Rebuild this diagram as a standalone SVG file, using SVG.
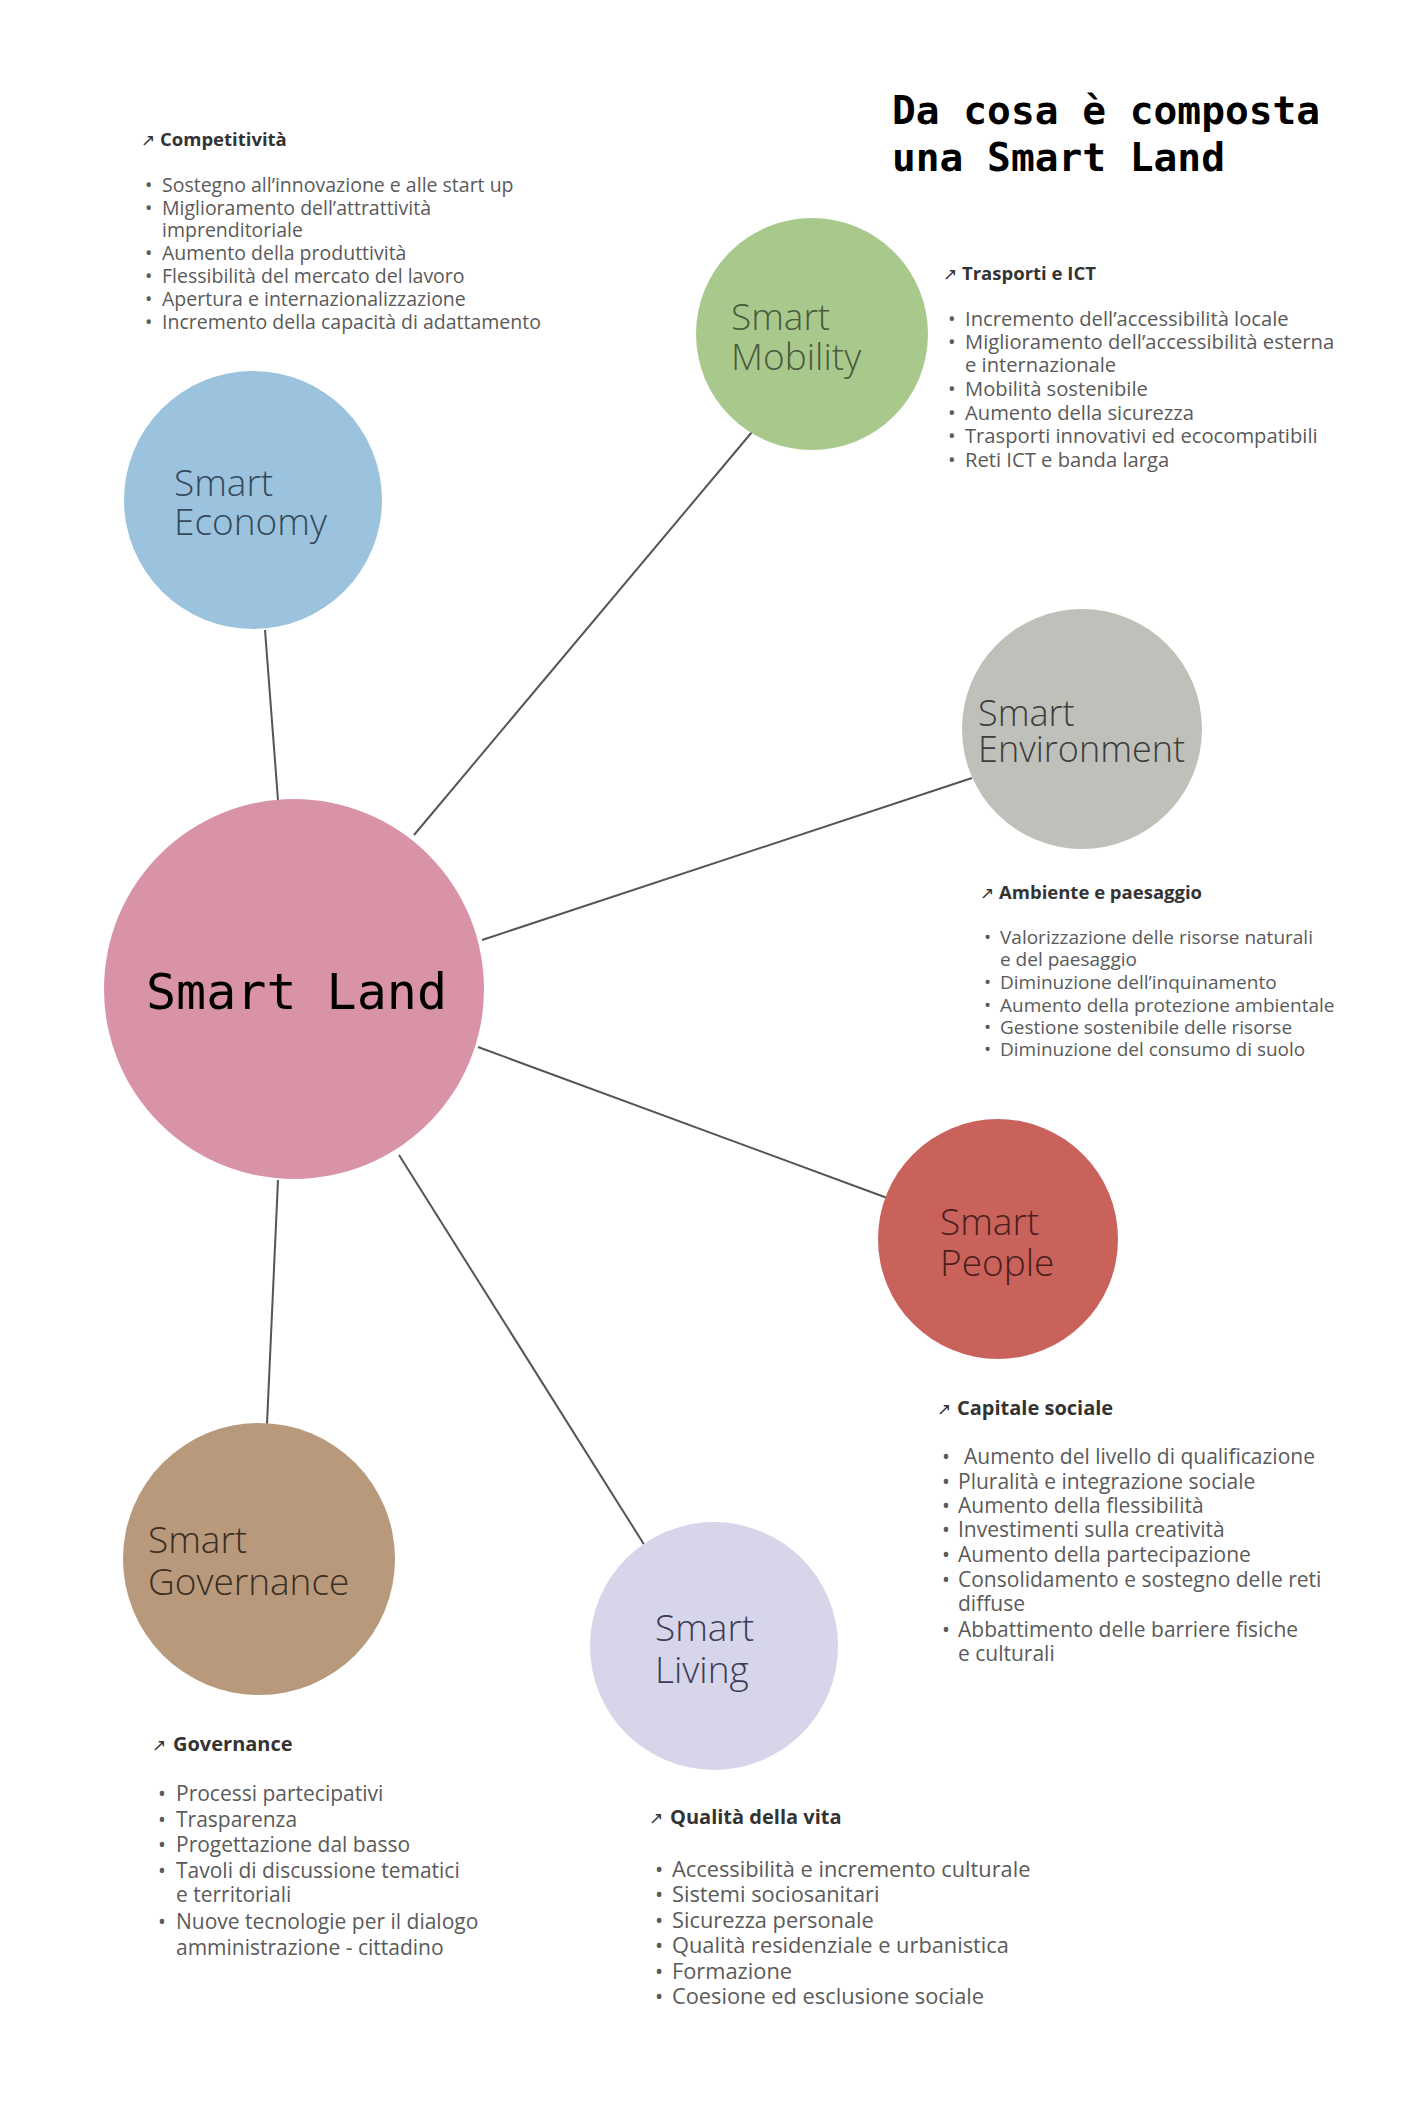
<svg xmlns="http://www.w3.org/2000/svg" width="1428" height="2112" viewBox="0 0 1428 2112">
<style>
.bg{fill:#ffffff}
.conn{stroke:#555555;stroke-width:2;fill:none}
.lbl{font-family:"Open Sans","Liberation Sans",sans-serif;font-size:37px;font-weight:300}
.title{font-family:"DejaVu Sans Mono","Liberation Mono",monospace;font-weight:bold;font-size:39.5px;fill:#000}
.land{font-family:"DejaVu Sans Mono","Liberation Mono",monospace;font-size:50px;fill:#000}
.hd{font-family:"Open Sans","Liberation Sans",sans-serif;font-weight:bold;font-size:18.5px;fill:#333}
.ar{font-family:"DejaVu Sans",sans-serif;font-weight:normal;font-size:17px}
.bl{font-family:"Open Sans","Liberation Sans",sans-serif;font-size:19.5px;fill:#5a5a5a}
.blm{font-family:"Open Sans","Liberation Sans",sans-serif;font-size:20.2px;fill:#5a5a5a}
.ble{font-family:"Open Sans","Liberation Sans",sans-serif;font-size:19px;fill:#5a5a5a}
.bl2{font-family:"Open Sans","Liberation Sans",sans-serif;font-size:21px;fill:#5a5a5a}
.bl3{font-family:"Open Sans","Liberation Sans",sans-serif;font-size:21.8px;fill:#5a5a5a}
.hd2{font-family:"Open Sans","Liberation Sans",sans-serif;font-weight:bold;font-size:20px;fill:#333}
</style>
<rect class="bg" x="0" y="0" width="1428" height="2112"/>
<g id="title">
<text class="title" x="892" y="124">Da cosa è composta</text>
<text class="title" x="892" y="171">una Smart Land</text>
</g>
<g id="connectors">
<line class="conn" x1="278" y1="800" x2="265" y2="630"/>
<line class="conn" x1="414" y1="835" x2="752" y2="432"/>
<line class="conn" x1="482" y1="940" x2="972" y2="778"/>
<line class="conn" x1="478" y1="1047" x2="890" y2="1199"/>
<line class="conn" x1="399" y1="1155" x2="645" y2="1546"/>
<line class="conn" x1="278" y1="1180" x2="267" y2="1424"/>
</g>
<g id="node-economy">
<circle cx="253" cy="500" r="129" fill="#9cc3de"/>
<text class="lbl" fill="#34495a"><tspan x="174" y="496">Smart</tspan><tspan x="174" y="535">Economy</tspan></text>
<text class="hd" x="141" y="146"><tspan class="ar">↗</tspan><tspan x="160">Competitività</tspan></text>
<text class="bl"><tspan x="145" y="192">•</tspan><tspan x="162">Sostegno all’innovazione e alle start up</tspan></text>
<text class="bl"><tspan x="145" y="215">•</tspan><tspan x="162">Miglioramento dell’attrattività</tspan></text>
<text class="bl" x="162" y="237">imprenditoriale</text>
<text class="bl"><tspan x="145" y="260">•</tspan><tspan x="162">Aumento della produttività</tspan></text>
<text class="bl"><tspan x="145" y="283">•</tspan><tspan x="162">Flessibilità del mercato del lavoro</tspan></text>
<text class="bl"><tspan x="145" y="306">•</tspan><tspan x="162">Apertura e internazionalizzazione</tspan></text>
<text class="bl"><tspan x="145" y="329">•</tspan><tspan x="162">Incremento della capacità di adattamento</tspan></text>
</g>
<g id="node-mobility">
<circle cx="812" cy="334" r="116" fill="#a9c98c"/>
<text class="lbl" fill="#4a5a3c"><tspan x="731" y="330">Smart</tspan><tspan x="731" y="370">Mobility</tspan></text>
<text class="hd" x="943" y="280"><tspan class="ar">↗</tspan><tspan x="962">Trasporti e ICT</tspan></text>
<text class="blm"><tspan x="948" y="326">•</tspan><tspan x="965">Incremento dell’accessibilità locale</tspan></text>
<text class="blm"><tspan x="948" y="349">•</tspan><tspan x="965">Miglioramento dell’accessibilità esterna</tspan></text>
<text class="blm" x="965" y="372">e internazionale</text>
<text class="blm"><tspan x="948" y="396">•</tspan><tspan x="965">Mobilità sostenibile</tspan></text>
<text class="blm"><tspan x="948" y="420">•</tspan><tspan x="965">Aumento della sicurezza</tspan></text>
<text class="blm"><tspan x="948" y="443">•</tspan><tspan x="965">Trasporti innovativi ed ecocompatibili</tspan></text>
<text class="blm"><tspan x="948" y="467">•</tspan><tspan x="965">Reti ICT e banda larga</tspan></text>
</g>
<g id="node-environment">
<circle cx="1082" cy="729" r="120" fill="#bfc0ba"/>
<text class="lbl" fill="#3c3c3c" style="font-size:36px"><tspan x="978" y="726">Smart</tspan><tspan x="978" y="762">Environment</tspan></text>
<text class="hd" x="980" y="899"><tspan class="ar">↗</tspan><tspan x="999">Ambiente e paesaggio</tspan></text>
<text class="ble"><tspan x="984" y="944">•</tspan><tspan x="1000">Valorizzazione delle risorse naturali</tspan></text>
<text class="ble" x="1000" y="966">e del paesaggio</text>
<text class="ble"><tspan x="984" y="989">•</tspan><tspan x="1000">Diminuzione dell’inquinamento</tspan></text>
<text class="ble"><tspan x="984" y="1012">•</tspan><tspan x="1000">Aumento della protezione ambientale</tspan></text>
<text class="ble"><tspan x="984" y="1034">•</tspan><tspan x="1000">Gestione sostenibile delle risorse</tspan></text>
<text class="ble"><tspan x="984" y="1056">•</tspan><tspan x="1000">Diminuzione del consumo di suolo</tspan></text>
</g>
<g id="node-land">
<circle cx="294" cy="989" r="190" fill="#d894a6"/>
<text class="land" x="146" y="1009">Smart Land</text>
</g>
<g id="node-people">
<circle cx="998" cy="1239" r="120" fill="#c9625b"/>
<text class="lbl" fill="#4a1f1b"><tspan x="940" y="1235">Smart</tspan><tspan x="940" y="1276">People</tspan></text>
<text class="hd2" x="937" y="1415"><tspan class="ar">↗</tspan><tspan x="957">Capitale sociale</tspan></text>
<text class="bl2"><tspan x="942" y="1464">•</tspan><tspan x="964">Aumento del livello di qualificazione</tspan></text>
<text class="bl2"><tspan x="942" y="1489">•</tspan><tspan x="958">Pluralità e integrazione sociale</tspan></text>
<text class="bl2"><tspan x="942" y="1513">•</tspan><tspan x="958">Aumento della flessibilità</tspan></text>
<text class="bl2"><tspan x="942" y="1537">•</tspan><tspan x="958">Investimenti sulla creatività</tspan></text>
<text class="bl2"><tspan x="942" y="1562">•</tspan><tspan x="958">Aumento della partecipazione</tspan></text>
<text class="bl2"><tspan x="942" y="1587">•</tspan><tspan x="958">Consolidamento e sostegno delle reti</tspan></text>
<text class="bl2" x="958" y="1611">diffuse</text>
<text class="bl2"><tspan x="942" y="1637">•</tspan><tspan x="958">Abbattimento delle barriere fisiche</tspan></text>
<text class="bl2" x="958" y="1661">e culturali</text>
</g>
<g id="node-governance">
<circle cx="259" cy="1559" r="136" fill="#b8997c"/>
<text class="lbl" fill="#3a2d22"><tspan x="148" y="1553">Smart</tspan><tspan x="148" y="1595">Governance</tspan></text>
<text class="hd2" x="152" y="1751"><tspan class="ar">↗</tspan><tspan x="173">Governance</tspan></text>
<text class="bl2"><tspan x="158" y="1801">•</tspan><tspan x="176">Processi partecipativi</tspan></text>
<text class="bl2"><tspan x="158" y="1827">•</tspan><tspan x="176">Trasparenza</tspan></text>
<text class="bl2"><tspan x="158" y="1852">•</tspan><tspan x="176">Progettazione dal basso</tspan></text>
<text class="bl2"><tspan x="158" y="1878">•</tspan><tspan x="176">Tavoli di discussione tematici</tspan></text>
<text class="bl2" x="176" y="1902">e territoriali</text>
<text class="bl2"><tspan x="158" y="1929">•</tspan><tspan x="176">Nuove tecnologie per il dialogo</tspan></text>
<text class="bl2" x="176" y="1955">amministrazione - cittadino</text>
</g>
<g id="node-living">
<circle cx="714" cy="1646" r="124" fill="#d6d5ea"/>
<text class="lbl" fill="#3b3b57"><tspan x="655" y="1641">Smart</tspan><tspan x="655" y="1683">Living</tspan></text>
<text class="hd2" x="649" y="1824"><tspan class="ar">↗</tspan><tspan x="670">Qualità della vita</tspan></text>
<text class="bl3"><tspan x="655" y="1877">•</tspan><tspan x="672">Accessibilità e incremento culturale</tspan></text>
<text class="bl3"><tspan x="655" y="1902">•</tspan><tspan x="672">Sistemi sociosanitari</tspan></text>
<text class="bl3"><tspan x="655" y="1928">•</tspan><tspan x="672">Sicurezza personale</tspan></text>
<text class="bl3"><tspan x="655" y="1953">•</tspan><tspan x="672">Qualità residenziale e urbanistica</tspan></text>
<text class="bl3"><tspan x="655" y="1979">•</tspan><tspan x="672">Formazione</tspan></text>
<text class="bl3"><tspan x="655" y="2004">•</tspan><tspan x="672">Coesione ed esclusione sociale</tspan></text>
</g>
</svg>
